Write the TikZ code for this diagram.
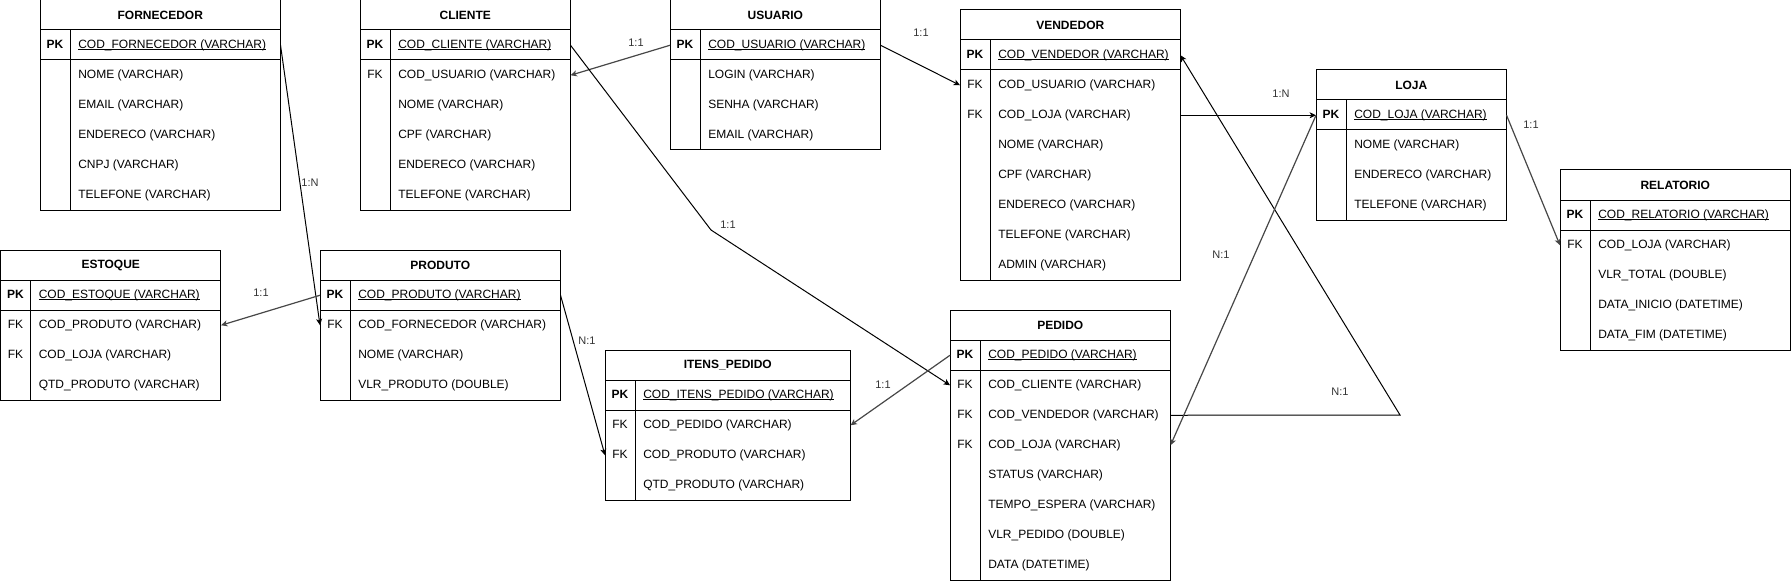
\documentclass[tikz,border=0pt]{standalone}
\usepackage{fontspec}
\setmainfont{Liberation Sans}
\usetikzlibrary{arrows.meta}
\newcommand{\pkul}[1]{\setbox0\hbox{#1}\rlap{\rule[-1.4pt]{\wd0}{0.65pt}}\box0}
\tikzset{
  tabline/.style={draw=black, line width=0.75pt},
  tabhead/.style={rectangle, inner sep=0pt, minimum height=22.5pt, anchor=north west,
    font=\fontsize{9}{11}\selectfont\bfseries},
  tabrow/.style={rectangle, inner sep=0pt, minimum height=22.5pt, anchor=north west},
  keytext/.style={inner sep=0pt, anchor=center, text height=6.5pt, text depth=1.8pt,
    font=\fontsize{9}{11}\selectfont},
  attrtext/.style={inner sep=0pt, anchor=west, text height=6.5pt, text depth=1.8pt,
    font=\fontsize{9}{11}\selectfont},
  lbl/.style={inner sep=0pt, text=black!80, font=\fontsize{8.25}{10}\selectfont},
  rel/.style={draw=black, line width=0.75pt, -{Stealth[length=4.8pt,width=4.5pt,inset=1.3pt]}},
  relg/.style={rel, draw=black!72, line width=0.9pt},
}
% #1 name, #2 x, #3 y, #4 width, #5 height, #6 title, #7 rows key/text
\newcommand{\ertable}[7]{%
  \draw[tabline] (#2,#3) rectangle ++(#4,#5);
  \draw[tabline] (#2,#3+30) -- ++(#4,0);
  \draw[tabline] (#2,#3+60) -- ++(#4,0);
  \draw[tabline] (#2+30,#3+30) -- (#2+30,#3+#5);
  \node[tabhead, minimum width=#4*0.75pt] (#1) at (#2,#3) {#6};
  \foreach \k/\t [count=\i] in {#7} {
    \node[tabrow, minimum width=#4*0.75pt] (#1-\i) at (#2,#3+30*\i) {};
    \node[keytext] (#1-\i-k) at ([xshift=11.25pt]#1-\i.west)
      {\ifnum\i=1 \textbf{\k}\else\k\fi};
    \node[attrtext] (#1-\i-t) at ([xshift=28.5pt]#1-\i.west)
      {\ifnum\i=1 \pkul{\t}\else\t\fi};
  }%
}
\begin{document}
\begin{tikzpicture}[x=0.75pt, y=-0.75pt]
\useasboundingbox (0,0) rectangle (1791,581);

\ertable{forn}{40}{0}{240}{210}{FORNECEDOR}{PK/COD\_FORNECEDOR (VARCHAR),/NOME (VARCHAR),/EMAIL (VARCHAR),/ENDERECO (VARCHAR),/CNPJ (VARCHAR),/TELEFONE (VARCHAR)}
\ertable{cli}{360}{0}{210}{210}{CLIENTE}{PK/COD\_CLIENTE (VARCHAR),FK/COD\_USUARIO (VARCHAR),/NOME (VARCHAR),/CPF (VARCHAR),/ENDERECO (VARCHAR),/TELEFONE (VARCHAR)}
\ertable{usu}{670}{0}{210}{150}{USUARIO}{PK/COD\_USUARIO (VARCHAR),/LOGIN (VARCHAR),/SENHA (VARCHAR),/EMAIL (VARCHAR)}
\ertable{ven}{960}{10}{220}{270}{VENDEDOR}{PK/COD\_VENDEDOR (VARCHAR),FK/COD\_USUARIO (VARCHAR),FK/COD\_LOJA (VARCHAR),/NOME (VARCHAR),/CPF (VARCHAR),/ENDERECO (VARCHAR),/TELEFONE (VARCHAR),/ADMIN (VARCHAR)}
\ertable{loja}{1316}{70}{190}{150}{LOJA}{PK/COD\_LOJA (VARCHAR),/NOME (VARCHAR),/ENDERECO (VARCHAR),/TELEFONE (VARCHAR)}
\ertable{rel}{1560}{170}{230}{180}{RELATORIO}{PK/COD\_RELATORIO (VARCHAR),FK/COD\_LOJA (VARCHAR),/VLR\_TOTAL (DOUBLE),/DATA\_INICIO (DATETIME),/DATA\_FIM (DATETIME)}
\ertable{est}{0.5}{250}{220}{150}{ESTOQUE}{PK/COD\_ESTOQUE (VARCHAR),FK/COD\_PRODUTO (VARCHAR),FK/COD\_LOJA (VARCHAR),/QTD\_PRODUTO (VARCHAR)}
\ertable{prod}{320}{250}{240}{150}{PRODUTO}{PK/COD\_PRODUTO (VARCHAR),FK/COD\_FORNECEDOR (VARCHAR),/NOME (VARCHAR),/VLR\_PRODUTO (DOUBLE)}
\ertable{itens}{605}{350}{245}{150}{ITENS\_PEDIDO}{PK/COD\_ITENS\_PEDIDO (VARCHAR),FK/COD\_PEDIDO (VARCHAR),FK/COD\_PRODUTO (VARCHAR),/QTD\_PRODUTO (VARCHAR)}
\ertable{ped}{950}{310}{220}{270}{PEDIDO}{PK/COD\_PEDIDO (VARCHAR),FK/COD\_CLIENTE (VARCHAR),FK/COD\_VENDEDOR (VARCHAR),FK/COD\_LOJA (VARCHAR),/STATUS (VARCHAR),/TEMPO\_ESPERA (VARCHAR),/VLR\_PEDIDO (DOUBLE),/DATA (DATETIME)}

% connectors
\coordinate (w1) at (711,230);
\coordinate (w2) at (1400,415);
\draw[rel]  (forn-1.east) -- (prod-2.west);
\draw[relg] (usu-1.west) -- (cli-2.east);
\draw[rel]  (cli-1.east) -- (w1) -- (ped-2.west);
\draw[rel]  (usu-1.east) -- (ven-2.west);
\draw[rel]  (ven-3.east) -- (loja-1.west);
\draw[relg] (loja-1.east) -- (rel-2.west);
\draw[relg] (prod-1.west) -- (est-2.east);
\draw[rel]  (prod-1.east) -- (itens-3.west);
\draw[relg] (ped-1.west) -- (itens-2.east);
\draw[rel]  (ped-3.east) -- (w2) -- (ven-1.east);
\draw[relg] (loja-1.west) -- (ped-4.east);

% labels
\node[lbl] (l1)  at (310,183) {1:N};
\node[lbl] (l2)  at (636,43)  {1:1};
\node[lbl] (l3)  at (728,225) {1:1};
\node[lbl] (l4)  at (921,33)  {1:1};
\node[lbl] (l5)  at (1281,94) {1:N};
\node[lbl] (l6)  at (1531,125) {1:1};
\node[lbl] (l7)  at (261,293) {1:1};
\node[lbl] (l8)  at (587,341) {N:1};
\node[lbl] (l9)  at (883,385) {1:1};
\node[lbl] (l10) at (1340,392) {N:1};
\node[lbl] (l11) at (1221,255) {N:1};
\end{tikzpicture}
\end{document}
